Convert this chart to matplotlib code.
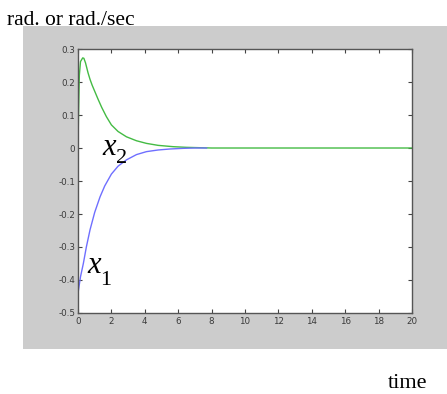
import matplotlib
matplotlib.use('Agg')
import matplotlib.pyplot as plt
from matplotlib.patches import Rectangle

# values
t_x1 = [0.0, 0.15, 0.32, 0.5, 0.72, 1.0, 1.32, 1.6, 2.0, 2.4, 2.9, 3.5, 4.1, 4.8, 5.5, 6.3, 7.0, 7.7]
x1 = [-0.44, -0.39, -0.35, -0.30, -0.248, -0.195, -0.148, -0.115, -0.079, -0.055, -0.036, -0.02, -0.011, -0.006, -0.003, -0.001, 0.0, 0.0]

t_x2 = [0.0, 0.03, 0.08, 0.15, 0.28, 0.35, 0.45, 0.6, 0.72, 0.85, 1.0, 1.2, 1.42, 1.7, 2.0, 2.4, 2.9, 3.5, 4.1, 4.8, 5.7, 6.5, 8.0, 12.0, 16.0, 20.0]
x2 = [0.0, 0.10, 0.22, 0.262, 0.273, 0.272, 0.258, 0.228, 0.208, 0.19, 0.172, 0.148, 0.123, 0.095, 0.07, 0.05, 0.034, 0.022, 0.014, 0.008, 0.004, 0.002, 0.0, 0.0, 0.0, 0.0]

xticks = list(range(0, 21, 2))
yticks = [-0.5, -0.4, -0.3, -0.2, -0.1, 0, 0.1, 0.2, 0.3]
ytick_labels = ['-0.5', '-0.4', '-0.3', '-0.2', '-0.1', '0', '0.1', '0.2', '0.3']

serif = ['Liberation Serif', 'DejaVu Serif']

fig = plt.figure(figsize=(4.47, 3.94), dpi=100)
fig.patch.set_facecolor('white')

# gray matlab figure panel
fig.add_artist(Rectangle((0.0515, 0.1142), 0.9485, 0.8198, transform=fig.transFigure,
                         facecolor='#cccccc', edgecolor='none', zorder=-10))

ax = fig.add_axes([0.1745, 0.2056, 0.7472, 0.67])
ax.set_zorder(5)
ax.set_facecolor('white')
ax.plot(t_x2, x2, color='#44bb44', linewidth=1.0)
ax.plot(t_x1, x1, color='#6f6fff', linewidth=1.0)

ax.set_xlim(0, 20)
ax.set_ylim(-0.5, 0.3)
ax.set_xticks(xticks)
ax.set_yticks(yticks)
ax.set_yticklabels(ytick_labels)
ax.tick_params(direction='in', length=3, width=0.8, top=True, right=True,
               labelsize=6.3, labelcolor='#3a3a3a', color='#444444')
ax.tick_params(axis='x', pad=3)
ax.tick_params(axis='y', pad=2)
for s in ax.spines.values():
    s.set_color('#555555')
    s.set_linewidth(1.0)

# curve labels
ax.text(1.45, -0.021, 'x', fontsize=22, family=serif, style='italic', ha='left', va='baseline')
ax.text(2.3, -0.045, '2', fontsize=16, family=serif, ha='left', va='baseline')
ax.text(0.55, -0.379, 'x', fontsize=22, family=serif, style='italic', ha='left', va='baseline')
ax.text(1.35, -0.415, '1', fontsize=16, family=serif, ha='left', va='baseline')

fig.text(0.016, 0.9365, 'rad. or rad./sec', fontsize=15.5, family=serif, ha='left', va='baseline')
fig.text(0.868, 0.016, 'time', fontsize=16, family=serif, ha='left', va='baseline')

fig.savefig('out.png', dpi=100)
